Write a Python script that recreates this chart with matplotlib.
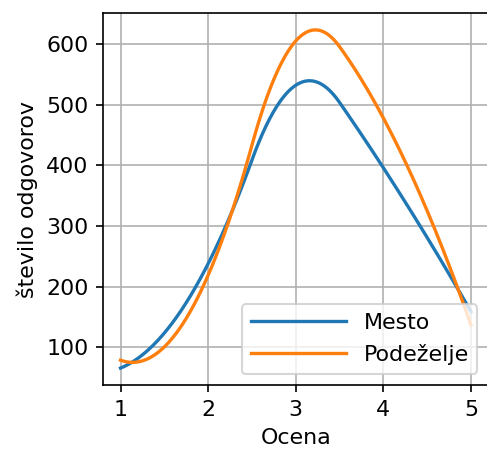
import numpy as np
import matplotlib
matplotlib.use('Agg')
import matplotlib.pyplot as plt

# Data
ocene = [1, 2, 3, 4, 5]
mesto = [66, 238, 532, 396, 159]
podezelje = [79, 219, 605, 478, 137]

labels = ['Mesto', 'Podeželje']
colors = ['#1f77b4', '#ff7f0e']

plt.rcParams['font.size'] = 10.6


def smooth_curve(x, y, n=300):
    # quadratic interpolating spline (knots between the inner points, like make_interp_spline k=2)
    x = np.asarray(x, dtype=float)
    y = np.asarray(y, dtype=float)
    mids = (x[1:] + x[:-1]) / 2.0
    knots = mids[1:-1]  # two inner knots
    edges = np.r_[x[0], knots, x[-1]]
    npieces = len(edges) - 1
    nunk = 3 * npieces
    A = np.zeros((nunk, nunk))
    b = np.zeros(nunk)
    row = 0
    for xi, yi in zip(x, y):
        p = min(np.searchsorted(edges, xi, side='right') - 1, npieces - 1)
        A[row, 3 * p:3 * p + 3] = [1, xi, xi ** 2]
        b[row] = yi
        row += 1
    for j, k in enumerate(knots):
        # value and slope continuous at each inner knot
        A[row, 3 * j:3 * j + 3] = [1, k, k ** 2]
        A[row, 3 * j + 3:3 * j + 6] = [-1, -k, -k ** 2]
        row += 1
        A[row, 3 * j:3 * j + 3] = [0, 1, 2 * k]
        A[row, 3 * j + 3:3 * j + 6] = [0, -1, -2 * k]
        row += 1
    coef = np.linalg.solve(A, b).reshape(npieces, 3)
    xs = np.linspace(x[0], x[-1], n)
    idx = np.clip(np.searchsorted(edges, xs, side='right') - 1, 0, npieces - 1)
    c = coef[idx]
    ys = c[:, 0] + c[:, 1] * xs + c[:, 2] * xs ** 2
    return xs, ys


fig = plt.figure(figsize=(487 / 150, 450 / 150), dpi=150)
ax = fig.add_axes([103 / 487, 65 / 450, 385.5 / 487, 372 / 450])

for vals, lab, col in zip([mesto, podezelje], labels, colors):
    xs, ys = smooth_curve(ocene, vals)
    ax.plot(xs, ys, color=col, linewidth=1.6, label=lab)

ax.set_xticks(ocene)
ax.set_yticks([100, 200, 300, 400, 500, 600])
ax.grid(True)
ax.set_xlabel('Ocena')
ax.set_ylabel('število odgovorov')
ax.legend(loc='lower right', handlelength=4.3)

fig.savefig('out.png', dpi=150)
